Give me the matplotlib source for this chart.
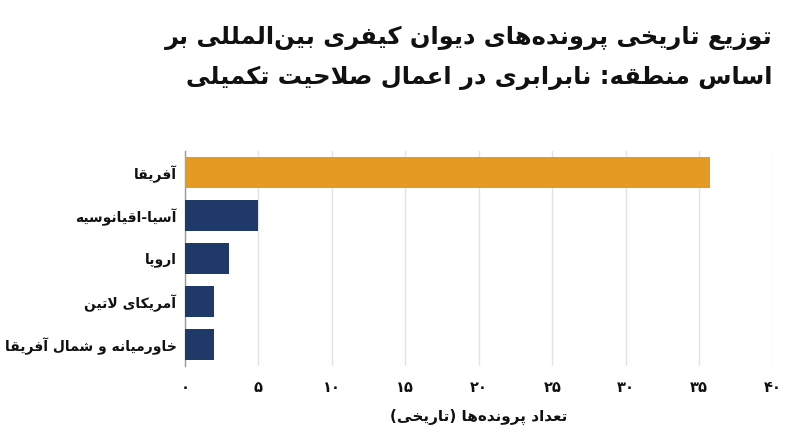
import matplotlib
matplotlib.use("Agg")
import matplotlib.pyplot as plt

# داده‌ها
regions = ["آفریقا", "آسیا-اقیانوسیه", "اروپا", "آمریکای لاتین", "خاورمیانه و شمال آفریقا"]
cases = [35.7, 5, 3, 2, 2]
bar_colors = ["#E39B24", "#1F3A68", "#1F3A68", "#1F3A68", "#1F3A68"]
x_ticks = [0, 5, 10, 15, 20, 25, 30, 35, 40]
x_tick_labels = ["۰", "۵", "۱۰", "۱۵", "۲۰", "۲۵", "۳۰", "۳۵", "۴۰"]
title_lines = ["توزیع تاریخی پرونده‌های دیوان کیفری بین‌المللی بر",
               "اساس منطقه: نابرابری در اعمال صلاحیت تکمیلی"]
x_label = "تعداد پرونده‌ها (تاریخی)"

# شکل‌دهی ساده حروف فارسی (matplotlib خودش اتصال حروف را انجام نمی‌دهد)
FORMS = {
    "\u0627": (0xFE8D, 0xFE8E, None, None),
    "\u0622": (0xFE81, 0xFE82, None, None),
    "\u0628": (0xFE8F, 0xFE90, 0xFE91, 0xFE92),
    "\u062A": (0xFE95, 0xFE96, 0xFE97, 0xFE98),
    "\u062D": (0xFEA1, 0xFEA2, 0xFEA3, 0xFEA4),
    "\u062E": (0xFEA5, 0xFEA6, 0xFEA7, 0xFEA8),
    "\u062F": (0xFEA9, 0xFEAA, None, None),
    "\u0631": (0xFEAD, 0xFEAE, None, None),
    "\u0632": (0xFEAF, 0xFEB0, None, None),
    "\u0633": (0xFEB1, 0xFEB2, 0xFEB3, 0xFEB4),
    "\u0634": (0xFEB5, 0xFEB6, 0xFEB7, 0xFEB8),
    "\u0635": (0xFEB9, 0xFEBA, 0xFEBB, 0xFEBC),
    "\u0637": (0xFEC1, 0xFEC2, 0xFEC3, 0xFEC4),
    "\u0639": (0xFEC9, 0xFECA, 0xFECB, 0xFECC),
    "\u0641": (0xFED1, 0xFED2, 0xFED3, 0xFED4),
    "\u0642": (0xFED5, 0xFED6, 0xFED7, 0xFED8),
    "\u0644": (0xFEDD, 0xFEDE, 0xFEDF, 0xFEE0),
    "\u0645": (0xFEE1, 0xFEE2, 0xFEE3, 0xFEE4),
    "\u0646": (0xFEE5, 0xFEE6, 0xFEE7, 0xFEE8),
    "\u0647": (0xFEE9, 0xFEEA, 0xFEEB, 0xFEEC),
    "\u0648": (0xFEED, 0xFEEE, None, None),
    "\u06CC": (0xFBFC, 0xFBFD, 0xFBFE, 0xFBFF),
    "\u06A9": (0xFB8E, 0xFB8F, 0xFB90, 0xFB91),
    "\u067E": (0xFB56, 0xFB57, 0xFB58, 0xFB59),
}
LAM_ALEF = {"\u0627": (0xFEFB, 0xFEFC), "\u0622": (0xFEF5, 0xFEF6)}


def dual(c):
    return c in FORMS and FORMS[c][2] is not None


def shape(text):
    chars = list(text)
    out = []
    i = 0
    while i < len(chars):
        c = chars[i]
        prev = chars[i - 1] if i > 0 else ""
        joins_prev = c in FORMS and dual(prev)
        if c == "\u0644" and i + 1 < len(chars) and chars[i + 1] in LAM_ALEF:
            iso, fin = LAM_ALEF[chars[i + 1]]
            out.append(chr(fin if joins_prev else iso))
            i += 2
            continue
        if c not in FORMS:
            if c != "\u200c":
                out.append(c)
            i += 1
            continue
        nxt = chars[i + 1] if i + 1 < len(chars) else ""
        joins_next = dual(c) and nxt in FORMS
        iso, fin, ini, med = FORMS[c]
        if joins_prev and joins_next:
            g = med
        elif joins_prev:
            g = fin
        elif joins_next:
            g = ini
        else:
            g = iso
        out.append(chr(g))
        i += 1
    vis = "".join(reversed(out))
    return vis.translate(str.maketrans("()", ")("))


plt.rcParams["font.family"] = ["DejaVu Sans"]

fig = plt.figure(figsize=(8, 4.47), dpi=100)
ax = fig.add_axes([0.231, 0.182, 0.735, 0.481])

ypos = list(range(len(regions)))
ax.barh(ypos, cases, height=0.72, color=bar_colors, zorder=3)
ax.set_ylim(len(regions) - 0.5, -0.5)
ax.set_xlim(0, 40)

ax.set_yticks(ypos)
ax.set_yticklabels([shape(r) for r in regions], fontsize=10, fontweight="bold", color="#111111")
ax.set_xticks(x_ticks)
ax.set_xticklabels(x_tick_labels, fontsize=10.5, fontweight="bold", color="#111111")
ax.tick_params(axis="both", length=0)
ax.tick_params(axis="y", pad=6)
ax.tick_params(axis="x", pad=10)

ax.grid(axis="x", color="#e3e3e3", linewidth=1, zorder=0)
for side in ["top", "right", "bottom"]:
    ax.spines[side].set_visible(False)
ax.spines["left"].set_color("#9a9a9a")
ax.spines["left"].set_linewidth(1)

ax.set_xlabel(shape(x_label), fontsize=11, fontweight="bold", color="#111111", labelpad=10)

fig.text(0.966, 0.915, shape(title_lines[0]), ha="right", va="center",
         fontsize=17.4, fontweight="bold", color="#111111")
fig.text(0.966, 0.825, shape(title_lines[1]), ha="right", va="center",
         fontsize=17.4, fontweight="bold", color="#111111")

fig.savefig("out.png", dpi=100, facecolor="white")
